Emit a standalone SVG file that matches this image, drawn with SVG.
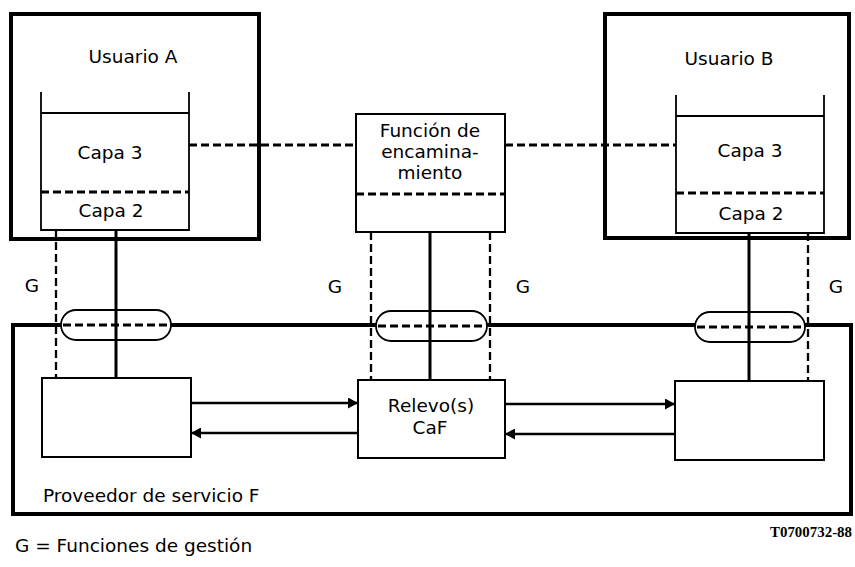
<svg xmlns="http://www.w3.org/2000/svg" width="855" height="567" viewBox="0 0 855 567">
<defs>
<marker id="ah" viewBox="0 0 10 11" refX="10" refY="5.5" markerWidth="10" markerHeight="11" markerUnits="userSpaceOnUse" orient="auto"><path d="M0,0 L10,5.5 L0,11 Z" fill="#000"/></marker>
</defs>
<style>
text{font-family:"DejaVu Sans","Liberation Sans",sans-serif;font-size:18.5px;fill:#000}
.mid{text-anchor:middle}
.thick{fill:none;stroke:#000;stroke-width:4}
.thin{fill:none;stroke:#000;stroke-width:1.8}
.bar{fill:none;stroke:#000;stroke-width:3}
.dash{fill:none;stroke:#000;stroke-width:2.8;stroke-dasharray:8 4}
.vdash{fill:none;stroke:#000;stroke-width:2.3;stroke-dasharray:8 4}
.box{fill:#fff;stroke:#000;stroke-width:2}
.arrow{stroke:#000;stroke-width:2.6;fill:none;marker-end:url(#ah)}
.cap{fill:#fff;stroke:#000;stroke-width:1.8}
.code{font-family:"Liberation Serif",serif;font-weight:bold;font-size:15px}
</style>
<rect width="855" height="567" fill="#fff"/>

<g id="userA">
<rect x="11" y="14" width="248" height="225" class="thick"/>
<text x="133" y="63" class="mid">Usuario A</text>
<path d="M41,92 V230 H189 V92 M41,113 H189" class="thin"/>
<line x1="41" y1="192" x2="189" y2="192" class="dash"/>
<text x="110" y="159" class="mid">Capa 3</text>
<text x="111" y="217" class="mid">Capa 2</text>
</g>

<g id="routing">
<rect x="356" y="114" width="149" height="118" class="box"/>
<line x1="356" y1="194" x2="505" y2="194" class="dash"/>
<text x="430" y="137" class="mid">Función de</text>
<text x="430" y="158" class="mid">encamina-</text>
<text x="430" y="179" class="mid">miento</text>
</g>

<g id="userB">
<rect x="605" y="14" width="244" height="224" class="thick"/>
<text x="729" y="65" class="mid">Usuario B</text>
<path d="M676,95 V233 H824 V95 M676,116 H824" class="thin"/>
<line x1="676" y1="193" x2="824" y2="193" class="dash"/>
<text x="750" y="157" class="mid">Capa 3</text>
<text x="751" y="220" class="mid">Capa 2</text>
</g>

<g id="provider">
<rect x="13" y="325" width="838" height="189" class="thick"/>
<rect x="61" y="310" width="110" height="30" rx="15" class="cap"/>
<line x1="63" y1="325" x2="169" y2="325" class="dash"/>
<rect x="376" y="311" width="111" height="30" rx="15" class="cap"/>
<line x1="378" y1="326" x2="485" y2="326" class="dash"/>
<rect x="695" y="312" width="110" height="30" rx="15" class="cap"/>
<line x1="697" y1="327" x2="803" y2="327" class="dash"/>
<text x="43" y="502">Proveedor de servicio F</text>
</g>

<g id="endA">
<rect x="42" y="378" width="149" height="79" class="box"/>
</g>

<g id="relay">
<rect x="358" y="380" width="147" height="78" class="box"/>
<text x="431" y="412" class="mid">Relevo(s)</text>
<text x="430" y="434" class="mid">CaF</text>
</g>

<g id="endB">
<rect x="675" y="381" width="149" height="79" class="box"/>
</g>

<g id="connectors">
<line x1="189" y1="145" x2="356" y2="145" class="dash"/>
<line x1="505" y1="145" x2="676" y2="145" class="dash"/>
<line x1="56" y1="230" x2="56" y2="378" class="vdash"/>
<line x1="116" y1="230" x2="116" y2="378" class="bar"/>
<line x1="371" y1="232" x2="371" y2="380" class="vdash"/>
<line x1="430" y1="232" x2="430" y2="380" class="bar"/>
<line x1="490" y1="232" x2="490" y2="380" class="vdash"/>
<line x1="749" y1="233" x2="749" y2="381" class="bar"/>
<line x1="808" y1="233" x2="808" y2="381" class="vdash"/>
<path d="M191,403 H358" class="arrow"/>
<path d="M358,433 H191" class="arrow"/>
<path d="M505,404 H675" class="arrow"/>
<path d="M675,434 H505" class="arrow"/>
</g>

<g id="labels">
<text x="32" y="292" class="mid">G</text>
<text x="335" y="293" class="mid">G</text>
<text x="523" y="293" class="mid">G</text>
<text x="836" y="293" class="mid">G</text>
<text x="15" y="552">G = Funciones de gestión</text>
<text x="770" y="537" class="code" textLength="82" lengthAdjust="spacingAndGlyphs">T0700732-88</text>
</g>
</svg>
